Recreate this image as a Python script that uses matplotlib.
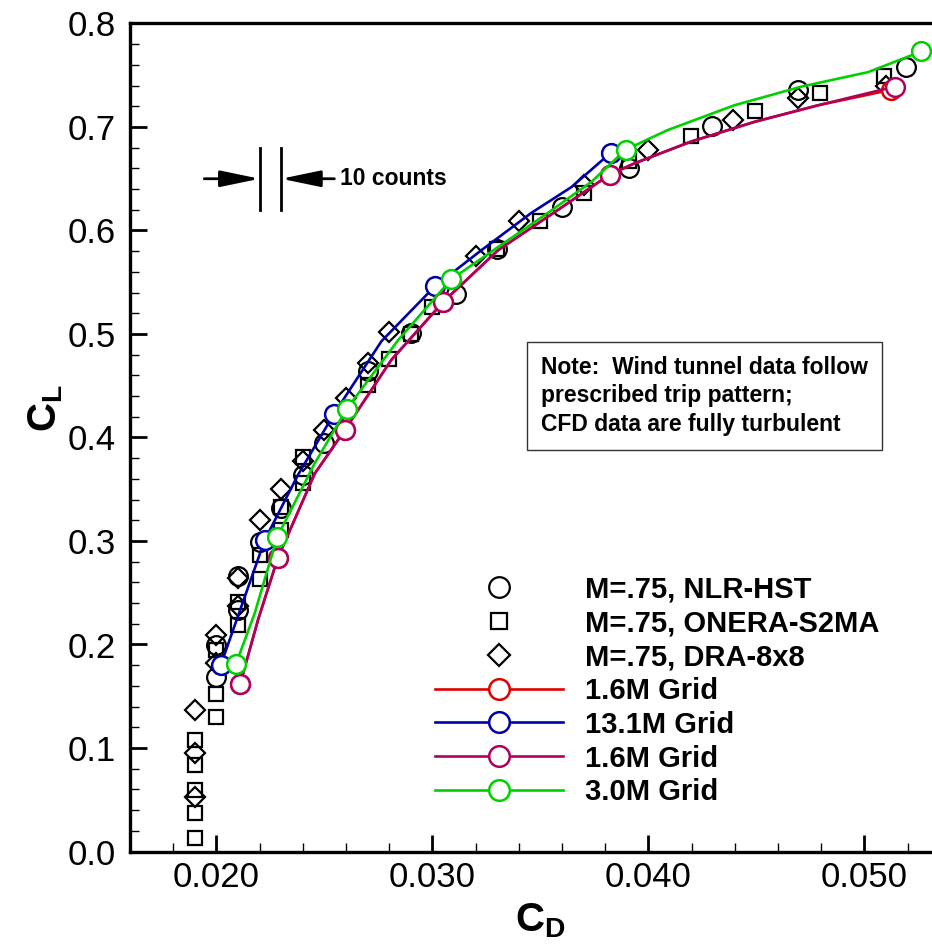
import numpy as np
import matplotlib.pyplot as plt
from matplotlib.ticker import MultipleLocator, FormatStrFormatter

plt.rcParams['font.family'] = 'Liberation Sans'
plt.rcParams['mathtext.fontset'] = 'custom'
plt.rcParams['mathtext.rm'] = 'Liberation Sans'
plt.rcParams['mathtext.bf'] = 'Liberation Sans:bold'

# wind tunnel data
nlr_cd = [0.0200, 0.0200, 0.0210, 0.0210, 0.0220, 0.0230, 0.0240, 0.0250, 0.0270,
          0.0290, 0.0311, 0.0330, 0.0360, 0.0391, 0.04295, 0.04691, 0.05194]
nlr_cl = [0.169, 0.200, 0.233, 0.266, 0.299, 0.332, 0.364, 0.395, 0.464,
          0.501, 0.539, 0.582, 0.623, 0.660, 0.701, 0.736, 0.758]

onera_cd = [0.0190, 0.0190, 0.0190, 0.0190, 0.0190, 0.0200, 0.0200, 0.0200, 0.0210,
            0.0210, 0.0220, 0.0220, 0.0230, 0.0230, 0.0240, 0.0240, 0.0270, 0.0280,
            0.0290, 0.0300, 0.0330, 0.0350, 0.0370, 0.0391, 0.04196, 0.04492,
            0.04796, 0.05091]
onera_cl = [0.013, 0.037, 0.059, 0.084, 0.108, 0.130, 0.152, 0.195, 0.219,
            0.241, 0.263, 0.286, 0.311, 0.333, 0.356, 0.381, 0.451, 0.476,
            0.500, 0.526, 0.582, 0.609, 0.636, 0.667, 0.691, 0.715,
            0.733, 0.749]

dra_cd = [0.0190, 0.0190, 0.0190, 0.0200, 0.0200, 0.0210, 0.0210, 0.0220, 0.0230,
          0.0240, 0.0250, 0.0260, 0.0270, 0.0280, 0.0320, 0.0340, 0.0370, 0.0400,
          0.04392, 0.04691, 0.0510]
dra_cl = [0.053, 0.095, 0.137, 0.182, 0.209, 0.237, 0.264, 0.320, 0.350,
          0.377, 0.407, 0.438, 0.472, 0.502, 0.575, 0.609, 0.644, 0.678,
          0.707, 0.728, 0.740]

# CFD results: marker points and extra points
g16_cd = [0.0211, 0.02285, 0.02594, 0.0305, 0.03821, 0.0514]
g16_cl = [0.162, 0.284, 0.407, 0.531, 0.654, 0.739]
g16_mid_cd = [0.02193, 0.02455, 0.0281, 0.03304, 0.03582, 0.03937, 0.04199, 0.04492, 0.04786]
g16_mid_cl = [0.224, 0.365, 0.475, 0.581, 0.620, 0.665, 0.686, 0.705, 0.721]

red_cd = [0.0211, 0.02285, 0.02594, 0.0305, 0.03821, 0.05125]
red_cl = [0.162, 0.284, 0.407, 0.531, 0.654, 0.736]

g131_cd = [0.0202, 0.02224, 0.02545, 0.03011, 0.03825]
g131_cl = [0.180, 0.301, 0.423, 0.546, 0.675]
g131_mid_cd = [0.02116, 0.02378, 0.02764, 0.03227, 0.03458, 0.03644]
g131_mid_cl = [0.237, 0.364, 0.493, 0.581, 0.617, 0.642]

g30_cd = [0.0209, 0.02282, 0.02605, 0.03088, 0.03894, 0.05264]
g30_cl = [0.181, 0.304, 0.428, 0.553, 0.678, 0.773]
g30_mid_cd = [0.02177, 0.02455, 0.02841, 0.03304, 0.03535, 0.03736, 0.04089, 0.04398, 0.04708, 0.05017]
g30_mid_cl = [0.230, 0.375, 0.494, 0.584, 0.617, 0.647, 0.697, 0.721, 0.739, 0.753]

labels = ['M=.75, NLR-HST', 'M=.75, ONERA-S2MA', 'M=.75, DRA-8x8',
          '1.6M Grid', '13.1M Grid', '1.6M Grid', '3.0M Grid']


def merged(mk_cd, mk_cl, mid_cd, mid_cl):
    cd = np.concatenate([mk_cd, mid_cd])
    cl = np.concatenate([mk_cl, mid_cl])
    order = np.argsort(cd)
    is_mk = np.concatenate([np.ones(len(mk_cd), bool), np.zeros(len(mid_cd), bool)])[order]
    return cd[order], cl[order], list(np.where(is_mk)[0])


fig = plt.figure(figsize=(9.32, 9.47), dpi=100)
ax = fig.add_axes([130 / 932, 95.5 / 947, 810 / 932, 828 / 947])

exp_kw = dict(linestyle='none', mfc='none', mec='black', mew=1.6, clip_on=False)
h1, = ax.plot(nlr_cd, nlr_cl, marker='o', ms=13.5, **exp_kw)
h2, = ax.plot(onera_cd, onera_cl, marker='s', ms=10.5, **exp_kw)
h3, = ax.plot(dra_cd, dra_cl, marker='D', ms=10.5, **exp_kw)

cfd = [(red_cd, red_cl, g16_mid_cd, g16_mid_cl, '#e00000'),
       (g131_cd, g131_cl, g131_mid_cd, g131_mid_cl, '#0000aa'),
       (g16_cd, g16_cl, g16_mid_cd, g16_mid_cl, '#b0005e'),
       (g30_cd, g30_cl, g30_mid_cd, g30_mid_cl, '#00d000')]
handles = [h1, h2, h3]
for mk_cd, mk_cl, mid_cd, mid_cl, col in cfd:
    cd, cl, idx = merged(mk_cd, mk_cl, mid_cd, mid_cl)
    h, = ax.plot(cd, cl, color=col, lw=1.9, marker='o', ms=13.5, markevery=idx,
                 mfc='white', mec=col, mew=1.8, clip_on=False)
    handles.append(h)

ax.set_xlim(0.016, 0.0535)
ax.set_ylim(0.0, 0.8)
ax.xaxis.set_major_locator(MultipleLocator(0.01))
ax.xaxis.set_minor_locator(MultipleLocator(0.002))
ax.yaxis.set_major_locator(MultipleLocator(0.1))
ax.yaxis.set_minor_locator(MultipleLocator(0.02))
ax.xaxis.set_major_formatter(FormatStrFormatter('%.3f'))
ax.yaxis.set_major_formatter(FormatStrFormatter('%.1f'))
ax.tick_params(which='both', direction='in', top=False, right=False, labelsize=25)
ax.tick_params(which='major', length=12, width=2)
ax.tick_params(which='minor', length=6.5, width=1)
ax.tick_params(axis='x', pad=7)
ax.tick_params(axis='y', pad=10)
for s in ax.spines.values():
    s.set_linewidth(2.4)

ax.set_xlabel(r'$\mathbf{C}_\mathbf{D}$', fontsize=29)
ax.set_ylabel(r'$\mathbf{C}_\mathbf{L}$', fontsize=29)
ax.xaxis.set_label_coords(0.506, -0.06)
ax.yaxis.set_label_coords(-0.08, 0.536)

ax.legend(handles, labels, loc='upper left', bbox_to_anchor=(0.3765, 0.3335),
          frameon=False, borderpad=0, borderaxespad=0, handlelength=4.4,
          handletextpad=0.75, labelspacing=0.2, markerscale=1.1,
          prop=dict(family='Liberation Sans', weight='bold', size=21))

# 10 counts scale marker
ax.plot([0.022, 0.022], [0.62, 0.68], color='black', lw=2)
ax.plot([0.023, 0.023], [0.62, 0.68], color='black', lw=2)
arrow = dict(arrowstyle='-|>,head_length=1.2,head_width=0.25', color='black',
             lw=2, shrinkA=0, shrinkB=0, mutation_scale=20)
ax.annotate('', xy=(0.022, 0.65), xytext=(0.01944, 0.65), arrowprops=arrow)
ax.annotate('', xy=(0.023, 0.65), xytext=(0.02546, 0.65), arrowprops=arrow)
ax.text(0.02574, 0.65, '10 counts', fontsize=16.5, fontweight='bold', va='center', ha='left')

ax.text((541 - 130) / 810, (851.5 - 356) / 828,
        'Note:  Wind tunnel data follow\nprescribed trip pattern;\nCFD data are fully turbulent',
        transform=ax.transAxes, fontsize=16.5, fontweight='bold', va='top', ha='left',
        linespacing=1.3,
        bbox=dict(boxstyle='square,pad=0.6', fc='white', ec='#333333', lw=1))

fig.savefig('out.png', dpi=100)
